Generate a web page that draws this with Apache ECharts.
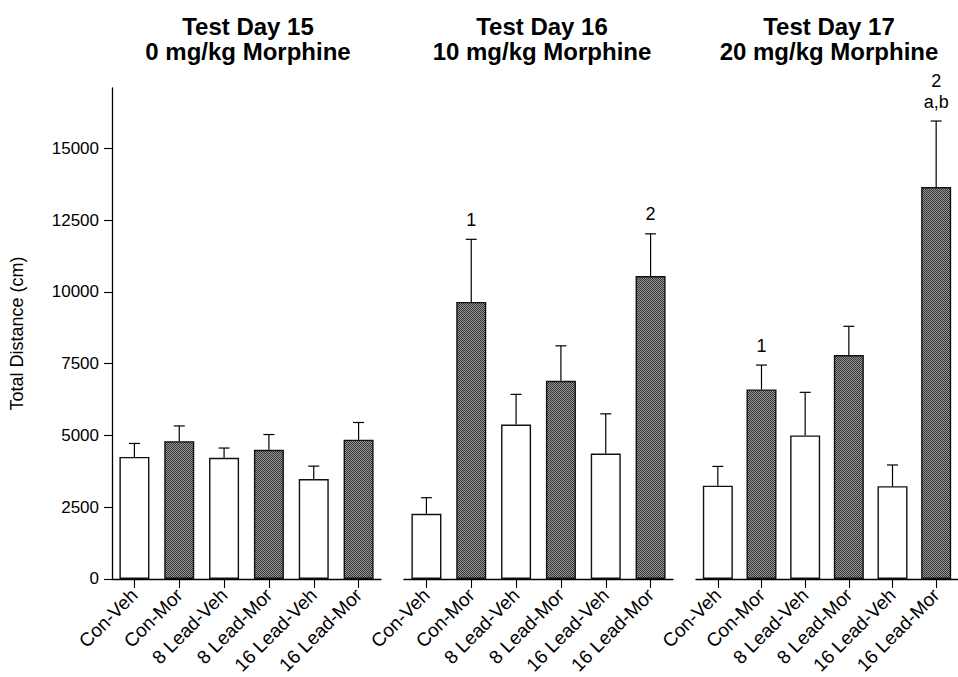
<!DOCTYPE html>
<html>
<head>
<meta charset="utf-8">
<script src="https://cdn.jsdelivr.net/npm/echarts@6/dist/echarts.min.js"></script>
<style>
  html, body { margin: 0; padding: 0; background: #fff; }
  #chart { width: 958px; height: 677px; }
</style>
</head>
<body>
<div id="chart"></div>
<script>
// ---------------- data ----------------
const categories = ['Con-Veh', 'Con-Mor', '8 Lead-Veh', '8 Lead-Mor', '16 Lead-Veh', '16 Lead-Mor'];
const panelTitles = ['Test Day 15\n0 mg/kg Morphine', 'Test Day 16\n10 mg/kg Morphine', 'Test Day 17\n20 mg/kg Morphine'];
const yAxisName = 'Total Distance (cm)';
const yTicks = [0, 2500, 5000, 7500, 10000, 12500, 15000];

const day15Mean  = [4250, 4800, 4220, 4500, 3480, 4850];
const day15Upper = [4720, 5330, 4560, 5030, 3930, 5450];
const day16Mean  = [2270, 9650, 5380, 6900, 4370, 10550];
const day16Upper = [2830, 11830, 6430, 8120, 5750, 12020];
const day17Mean  = [3250, 6600, 5000, 7800, 3230, 13650];
const day17Upper = [3920, 7450, 6500, 8800, 3970, 15950];

const day15Marks = ['', '', '', '', '', ''];
const day16Marks = ['', '1', '', '', '', '2'];
const day17Marks = ['', '1', '', '', '', '2\na,b'];

// ---------------- build ----------------
const panels = [
  { mean: day15Mean, upper: day15Upper, marks: day15Marks },
  { mean: day16Mean, upper: day16Upper, marks: day16Marks },
  { mean: day17Mean, upper: day17Upper, marks: day17Marks }
];

const FONT = '"Liberation Sans", Arial, Helvetica, sans-serif';

// dithered dark-gray fill like the original print
function makePattern() {
  const c = document.createElement('canvas');
  c.width = 2; c.height = 2;
  const ctx = c.getContext('2d');
  ctx.fillStyle = '#969696'; ctx.fillRect(0, 0, 2, 2);
  ctx.fillStyle = '#353535'; ctx.fillRect(0, 0, 1, 1); ctx.fillRect(1, 1, 1, 1);
  return c.toDataURL();
}
const morFill = { image: makePattern(), repeat: 'repeat' };

const gridLayout = [
  { left: 112, width: 269 },
  { left: 404, width: 269 },
  { left: 696, width: 268 }
];
const titleCenters = [248, 542, 829];

const grids = gridLayout.map(g => ({ left: g.left, width: g.width, top: 88, height: 491, containLabel: false }));

const xAxes = panels.map((p, i) => ({
  type: 'category',
  gridIndex: i,
  data: categories,
  boundaryGap: true,
  axisLine: { show: true, lineStyle: { color: '#000', width: 1.3 } },
  axisTick: { show: true, alignWithLabel: true, length: 9, lineStyle: { color: '#000', width: 1.1 } },
  axisLabel: { interval: 0, rotate: 45, fontSize: 19, fontFamily: FONT, color: '#000', margin: 13 },
  splitLine: { show: false }
}));

const yAxes = panels.map((p, i) => ({
  type: 'value',
  gridIndex: i,
  min: 0,
  max: 17100,
  show: i === 0,
  name: i === 0 ? yAxisName : '',
  nameLocation: 'middle',
  nameGap: 86,
  nameRotate: 90,
  nameTextStyle: { fontSize: 18, fontFamily: FONT, color: '#000' },
  axisLine: { show: true, lineStyle: { color: '#000', width: 1.3 } },
  axisTick: { show: true, length: 8, inside: false, customValues: yTicks, lineStyle: { color: '#000', width: 1.1 } },
  axisLabel: { fontSize: 17, fontFamily: FONT, color: '#000', margin: 13, customValues: yTicks,
               formatter: v => String(v) },
  splitLine: { show: false }
}));

const series = [];
panels.forEach((p, i) => {
  series.push({
    type: 'bar',
    xAxisIndex: i, yAxisIndex: i,
    barWidth: 30,
    data: p.mean.map((v, k) => ({
      value: v,
      itemStyle: {
        color: categories[k].endsWith('Mor') ? morFill : '#ffffff',
        borderColor: '#111',
        borderWidth: 1.4
      }
    })),
    silent: true,
    animation: false
  });
  series.push({
    type: 'custom',
    xAxisIndex: i, yAxisIndex: i,
    data: p.mean.map((v, k) => [k, v, p.upper[k]]),
    renderItem: function (params, api) {
      const b = api.coord([api.value(0), api.value(1)]);
      const t = api.coord([api.value(0), api.value(2)]);
      const st = { stroke: '#000', lineWidth: 1.2 };
      return {
        type: 'group',
        children: [
          { type: 'line', shape: { x1: b[0], y1: b[1], x2: t[0], y2: t[1] }, style: st },
          { type: 'line', shape: { x1: t[0] - 5.5, y1: t[1], x2: t[0] + 5.5, y2: t[1] }, style: st }
        ]
      };
    },
    silent: true,
    animation: false,
    z: 3
  });
  const markData = [];
  p.marks.forEach((m, k) => { if (m) markData.push([k, p.upper[k], m]); });
  if (markData.length) {
    series.push({
      type: 'custom',
      xAxisIndex: i, yAxisIndex: i,
      data: markData,
      renderItem: function (params, api) {
        const t = api.coord([api.value(0), api.value(1)]);
        const txt = markData[params.dataIndex][2];
        return {
          type: 'text',
          x: t[0], y: t[1] - 9,
          style: {
            text: txt,
            align: 'center',
            verticalAlign: 'bottom',
            fill: '#000',
            fontSize: 18,
            fontWeight: 500,
            fontFamily: FONT,
            lineHeight: 21
          }
        };
      },
      silent: true,
      animation: false,
      z: 4
    });
  }
});

const graphics = panelTitles.map((t, i) => ({
  type: 'text',
  x: titleCenters[i],
  y: 14,
  style: {
    text: t,
    align: 'center',
    verticalAlign: 'top',
    fontSize: 24,
    fontWeight: 'bold',
    fontFamily: FONT,
    lineHeight: 25,
    fill: '#000'
  }
}));

const chart = echarts.init(document.getElementById('chart'), null, { renderer: 'svg' });
chart.setOption({
  backgroundColor: '#fff',
  animation: false,
  grid: grids,
  xAxis: xAxes,
  yAxis: yAxes,
  series: series,
  graphic: graphics
});
</script>
</body>
</html>
